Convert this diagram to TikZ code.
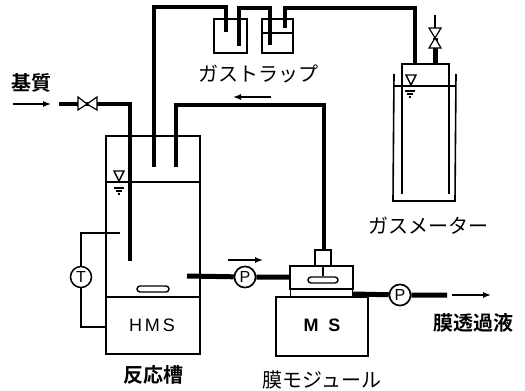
\documentclass[tikz,border=0pt]{standalone}
\usepackage{fontspec}
\setmainfont{Liberation Sans}
\newfontfamily\cjk{Noto Sans CJK JP}
\newfontfamily\cjkb{Noto Sans CJK JP Bold}
\usetikzlibrary{arrows.meta}
\tikzset{
  vessel/.style={draw=black,line width=1.6pt,inner sep=0pt,fill=none},
  pipe/.style={draw=black,line width=4.2pt,line join=miter},
  widepipe/.style={draw=black,line width=5pt,line join=miter},
  thin line/.style={draw=black,line width=1.4pt},
  flow/.style={draw=black,line width=1.4pt,-{Latex[length=8pt,width=6pt]}},
  gauge/.style={circle,draw=black,line width=1.5pt,minimum size=21pt,inner sep=0pt,font=\fontsize{16}{16}\selectfont,fill=white},
  jlabel/.style={inner sep=0pt,font=\cjk\fontsize{20}{20}\selectfont},
  blabel/.style={inner sep=0pt,font=\cjkb\fontsize{20}{20}\selectfont},
  devlabel/.style={inner sep=0pt,font=\fontsize{18}{18}\selectfont},
  valvepart/.style={draw=black,line width=1.2pt,fill=white},
}
\begin{document}
\begin{tikzpicture}[x=1pt,y=-1pt]
\useasboundingbox (0,0) rectangle (525,391);
% coordinates
\coordinate (subIn) at (59,104);
\coordinate (v1) at (87,104);
\coordinate (subCorner) at (130,104);
\coordinate (subEnd) at (130,261);
\coordinate (g1a) at (154,167);
\coordinate (g1b) at (154,7);
\coordinate (g1c) at (226,7);
\coordinate (g1d) at (226,32);
\coordinate (r1a) at (176,167);
\coordinate (r1b) at (176,105);
\coordinate (r1c) at (324,105);
\coordinate (r1d) at (324,250);
\coordinate (t1a) at (239,46);
\coordinate (t1b) at (239,8);
\coordinate (t1c) at (270,8);
\coordinate (t1d) at (270,45);
\coordinate (t2a) at (285,28);
\coordinate (t2b) at (285,8);
\coordinate (t2c) at (415,8);
\coordinate (t2d) at (415,64);
\coordinate (v2) at (435,38);
\coordinate (vTop) at (435,15);
\coordinate (vBot) at (435,64);
\coordinate (outStart) at (187,276);
\coordinate (modIn) at (290,277);
\coordinate (modOut) at (353,294);
\coordinate (permEnd) at (447,295);
\coordinate (tTop) at (120,233);
\coordinate (tTopC) at (81,233);
\coordinate (tBot) at (106,327);
\coordinate (tBotC) at (81,327);
% vessels
\node[vessel,minimum width=94pt,minimum height=218pt] (reactor) at (153,245) {};
\node[vessel,minimum width=33pt,minimum height=34pt] (trapA) at (230.5,36) {};
\node[vessel,minimum width=31pt,minimum height=34pt] (trapB) at (277.5,36) {};
\node[vessel,minimum width=63pt,minimum height=23pt] (modBody) at (321.5,277.5) {};
\node[vessel,minimum width=62pt,minimum height=8pt] (modPlate) at (321.5,293) {};
\node[vessel,minimum width=16pt,minimum height=16pt] (modNeck) at (323,258) {};
\node[vessel,minimum width=92pt,minimum height=59pt] (ms) at (322,326.5) {};
\node[gauge] (T) at (81,277) {T};
\node[gauge] (P1) at (245,277) {P};
\node[gauge] (P2) at (400,295) {P};
% internal lines
\draw[thin line] (reactor.west |- 0,182) -- (reactor.east |- 0,182);
\draw[vessel] (reactor.west |- 0,297) -- (reactor.east |- 0,297);
\draw[thin line] (trapB.west |- 0,33) -- (trapB.east |- 0,33);
% gas meter
\draw[vessel] (402,194) -- (402,64) -- (449,64) -- (449,194);
\draw[vessel] (394,74) -- (393,201) -- (455,201) -- (456,74);
\draw[thin line] (394,86) -- (456,86);
% pipes
\draw[pipe] (subIn) -- (v1) -- (subCorner) -- (subEnd);
\draw[pipe] (g1a) -- (g1b) -- (g1c) -- (g1d);
\draw[pipe] (r1a) -- (r1b) -- (r1c) -- (r1d);
\draw[pipe] (t1a) -- (t1b) -- (t1c) -- (t1d);
\draw[pipe] (t2a) -- (t2b) -- (t2c) -- (t2d);
\draw[draw=black,line width=2.8pt] (vTop) -- (v2);
\draw[widepipe] (v2) -- (vBot);
\draw[widepipe] (outStart) -- (P1) -- (modIn);
\draw[widepipe] (modOut) -- (P2) -- (permEnd);
% redraw pump circles above pipes
\node[gauge] at (P1) {P};
\node[gauge] at (P2) {P};
% valves
\draw[valvepart] (78,97) -- (87,104) -- (78,110) -- cycle;
\draw[valvepart] (97,97) -- (87,104) -- (97,110) -- cycle;
\draw[valvepart] (429,28) -- (435,38) -- (441,28) -- cycle;
\draw[valvepart] (429,48) -- (435,38) -- (441,48) -- cycle;
% thermostat
\draw[thin line] (tTop) -- (tTopC) -- (T);
\draw[thin line] (T) -- (tBotC) -- (tBot);
% stirrers
\node[draw=black,line width=1.4pt,rounded corners=3pt,minimum width=32pt,minimum height=6pt,inner sep=0pt] (barR) at (153,289) {};
\node[draw=black,line width=1.4pt,rounded corners=3pt,minimum width=30pt,minimum height=6pt,inner sep=0pt] (barM) at (323,280) {};
\draw[thin line] (modNeck.south) -- (barM.north);
% level marks
\foreach \x/\y in {119/171,411/75}{
  \draw[draw=black,line width=1.4pt] (\x-5,\y) -- (\x+5,\y) -- (\x,\y+10) -- cycle;
}
\foreach \x/\y in {119/188,410/91}{
  \draw[draw=black,line width=1.1pt] (\x-5,\y) -- (\x+5,\y);
  \draw[draw=black,line width=1.1pt] (\x-3,\y+3) -- (\x+3,\y+3);
  \draw[draw=black,line width=1.1pt] (\x-1,\y+6) -- (\x+1,\y+6);
}
% flow arrows
\coordinate (a1s) at (13,104); \coordinate (a1e) at (51,104);
\coordinate (a2s) at (271,97); \coordinate (a2e) at (233,97);
\coordinate (a3s) at (228,260); \coordinate (a3e) at (263,260);
\coordinate (a4s) at (452,295); \coordinate (a4e) at (491,295);
\draw[flow] (a1s) -- (a1e);
\draw[flow] (a2s) -- (a2e);
\draw[flow] (a3s) -- (a3e);
\draw[flow] (a4s) -- (a4e);
% labels
\node[blabel] (lsub) at (32,83) {基質};
\node[jlabel] (ltrap) at (258,74) {ガストラップ};
\node[jlabel] (lgm) at (428,226) {ガスメーター};
\node[blabel] (lreac) at (153,375) {反応槽};
\node[jlabel] (lmod) at (322,380) {膜モジュール};
\node[blabel] (lperm) at (473,323) {膜透過液};
\node[devlabel] (lhms) at (152,325) {H\,M\,S};
\node[devlabel,font=\bfseries\fontsize{18}{18}\selectfont] (lms) at (322,325) {M\hspace{10pt}S};
\end{tikzpicture}
\end{document}
